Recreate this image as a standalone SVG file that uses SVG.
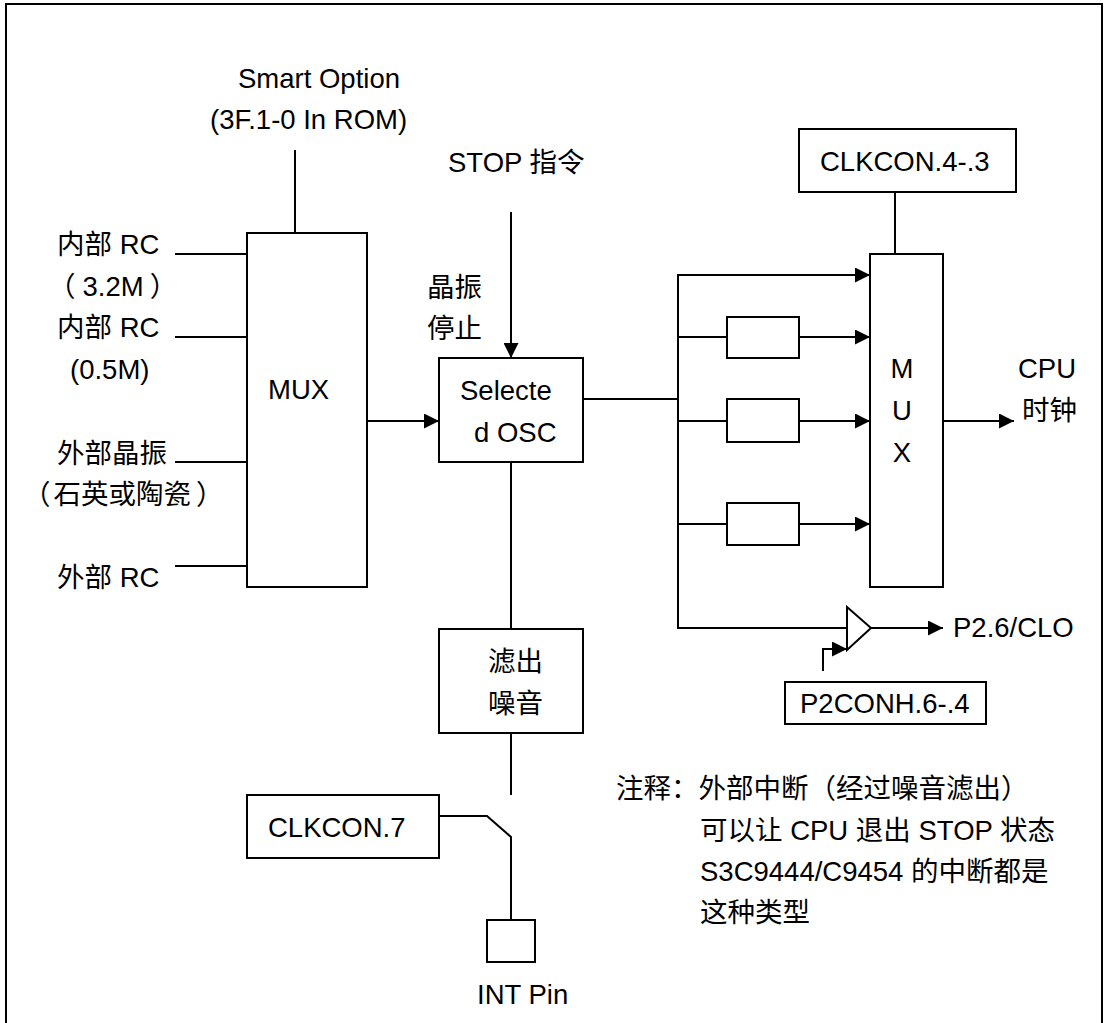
<svg xmlns="http://www.w3.org/2000/svg" width="1107" height="1023" viewBox="0 0 1107 1023">
<style>
text{font-family:"Liberation Sans","Noto Sans CJK SC",sans-serif;font-size:27.5px;fill:#000}
.b{fill:#fff;stroke:#000;stroke-width:2}
.l{fill:none;stroke:#000;stroke-width:2}
.m{text-anchor:middle}
</style>
<defs>
<marker id="ah" markerWidth="15" markerHeight="15" refX="15" refY="7.5" orient="auto" markerUnits="userSpaceOnUse">
<path d="M0,0 L15,7.5 L0,15 z" fill="#000"/>
</marker>
</defs>
<rect x="0" y="0" width="1107" height="1023" fill="#fff"/>
<rect x="6" y="4" width="1096" height="1040" class="l"/>

<g id="connectors">
<line x1="295" y1="150" x2="295" y2="233" class="l"/>
<line x1="175" y1="254" x2="247" y2="254" class="l"/>
<line x1="175" y1="337" x2="247" y2="337" class="l"/>
<line x1="175" y1="462" x2="247" y2="462" class="l"/>
<line x1="175" y1="566" x2="247" y2="566" class="l"/>
<line x1="367" y1="421" x2="439" y2="421" class="l" marker-end="url(#ah)"/>
<line x1="511" y1="212" x2="511" y2="358" class="l" marker-end="url(#ah)"/>
<line x1="583" y1="399" x2="678" y2="399" class="l"/>
<polyline points="870,275 678,275 678,628 847,628" class="l"/>
<line x1="678" y1="275" x2="870" y2="275" class="l" marker-end="url(#ah)"/>
<line x1="678" y1="337" x2="727" y2="337" class="l"/>
<line x1="799" y1="337" x2="870" y2="337" class="l" marker-end="url(#ah)"/>
<line x1="678" y1="421" x2="727" y2="421" class="l"/>
<line x1="799" y1="421" x2="870" y2="421" class="l" marker-end="url(#ah)"/>
<line x1="678" y1="524" x2="727" y2="524" class="l"/>
<line x1="799" y1="524" x2="870" y2="524" class="l" marker-end="url(#ah)"/>
<line x1="895" y1="192" x2="895" y2="254" class="l"/>
<line x1="943" y1="421" x2="1014" y2="421" class="l" marker-end="url(#ah)"/>
<line x1="871" y1="628" x2="943" y2="628" class="l" marker-end="url(#ah)"/>
<polyline points="823,671 823,649 847,649" class="l" marker-end="url(#ah)"/>
<line x1="511" y1="462" x2="511" y2="629" class="l"/>
<line x1="511" y1="733" x2="511" y2="795" class="l"/>
<polyline points="439,816 487,816 511,837 511,920" class="l"/>
</g>

<g id="smart-option">
<text x="238" y="88">Smart Option</text>
<text x="210" y="129">(3F.1-0 In ROM)</text>
</g>
<g id="inputs">
<text x="57" y="254">内部 RC</text>
<text x="48" y="296">（<tspan dx="7">3.2M</tspan><tspan dx="6">）</tspan></text>
<text x="57" y="337">内部 RC</text>
<text x="70" y="379">(0.5M)</text>
<text x="57" y="463">外部晶振</text>
<text x="23" y="504">（<tspan dx="3">石英或陶瓷</tspan><tspan dx="5">）</tspan></text>
<text x="57" y="587">外部 RC</text>
</g>
<g id="mux1">
<rect x="247" y="233" width="120" height="354" class="b"/>
<text x="268" y="399">MUX</text>
</g>
<g id="stop">
<text x="448" y="172">STOP 指令</text>
<text x="427" y="297">晶振</text>
<text x="427" y="338">停止</text>
</g>
<g id="selected-osc">
<rect x="439" y="358" width="144" height="104" class="b"/>
<text x="460" y="400">Selecte</text>
<text x="474" y="442">d OSC</text>
</g>
<g id="div1"><rect x="727" y="317" width="72" height="41" class="b"/></g>
<g id="div2"><rect x="727" y="399" width="72" height="43" class="b"/></g>
<g id="div3"><rect x="727" y="503" width="72" height="42" class="b"/></g>
<g id="clkcon43">
<rect x="799" y="129" width="217" height="63" class="b"/>
<text x="820" y="171">CLKCON.4-.3</text>
</g>
<g id="mux2">
<rect x="870" y="254" width="73" height="333" class="b"/>
<text x="902" y="378" class="m">M</text>
<text x="902" y="420" class="m">U</text>
<text x="902" y="462" class="m">X</text>
</g>
<g id="cpu-clock">
<text x="1018" y="378">CPU</text>
<text x="1022" y="420">时钟</text>
</g>
<g id="buffer">
<polygon points="847,607 871,628 847,650" class="b"/>
</g>
<g id="p26clo"><text x="953" y="637">P2.6/CLO</text></g>
<g id="p2conh">
<rect x="785" y="682" width="201" height="42" class="b"/>
<text x="800" y="713">P2CONH.6-.4</text>
</g>
<g id="noise-filter">
<rect x="439" y="629" width="144" height="104" class="b"/>
<text x="488" y="671">滤出</text>
<text x="488" y="713">噪音</text>
</g>
<g id="clkcon7">
<rect x="247" y="795" width="192" height="63" class="b"/>
<text x="268" y="837">CLKCON.7</text>
</g>
<g id="int-pin">
<rect x="487" y="920" width="48" height="42" class="b"/>
<text x="477" y="1004">INT Pin</text>
</g>
<g id="note">
<text x="616" y="798">注释：外部中断（经过噪音滤出）</text>
<text x="700" y="840">可以让 CPU 退出 STOP 状态</text>
<text x="700" y="881">S3C9444/C9454 的中断都是</text>
<text x="700" y="922">这种类型</text>
</g>
</svg>
